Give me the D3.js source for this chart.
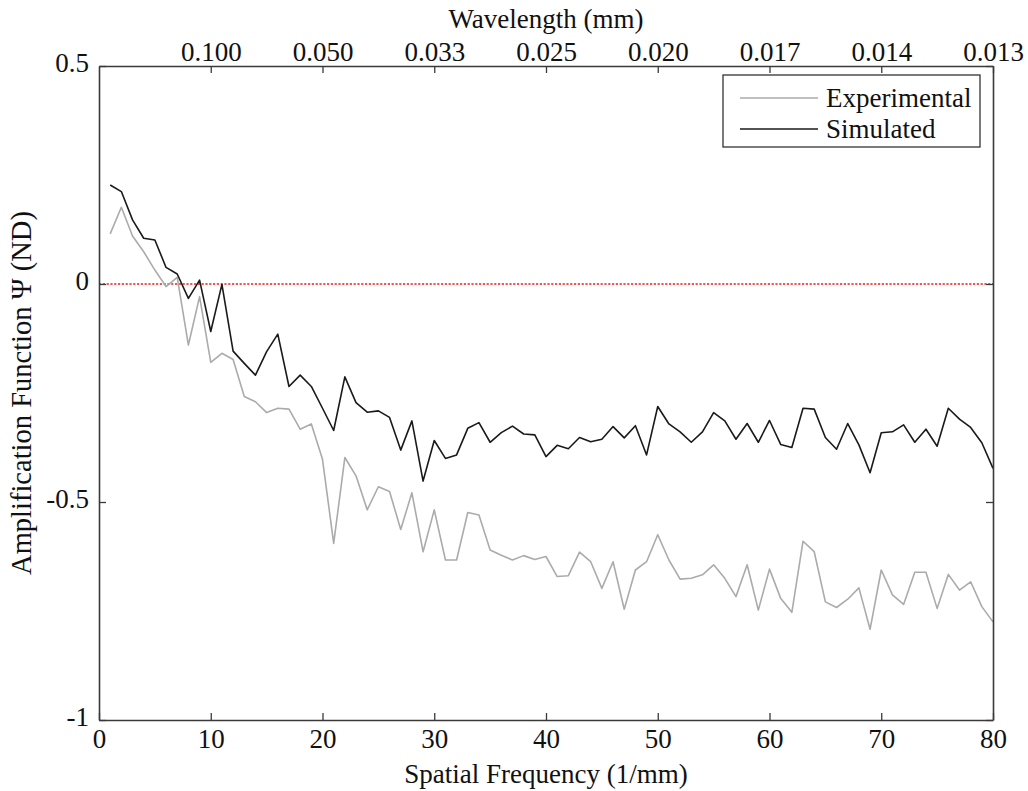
<!DOCTYPE html>
<html>
<head>
<meta charset="utf-8">
<script src="https://cdn.jsdelivr.net/npm/d3@7"></script>
<style>
  html, body { margin: 0; padding: 0; background: #fff; }
  svg { display: block; }
  text { font-family: "Liberation Serif", "Times New Roman", serif; fill: #111; }
</style>
</head>
<body>
<svg id="chart" width="1028" height="791"></svg>
<script>
// ---- data ----
const frequency = d3.range(1, 81);
const experimental = [
  0.115, 0.176, 0.110, 0.074, 0.032, -0.006, 0.015, -0.140, -0.029, -0.180,
  -0.159, -0.173, -0.258, -0.270, -0.295, -0.285, -0.287, -0.333, -0.321, -0.402,
  -0.595, -0.398, -0.440, -0.518, -0.465, -0.476, -0.563, -0.479, -0.614, -0.518,
  -0.633, -0.633, -0.524, -0.530, -0.610, -0.622, -0.633, -0.623, -0.632, -0.625,
  -0.671, -0.669, -0.615, -0.637, -0.698, -0.637, -0.746, -0.656, -0.637, -0.575,
  -0.633, -0.677, -0.675, -0.667, -0.644, -0.675, -0.717, -0.644, -0.748, -0.654,
  -0.721, -0.753, -0.590, -0.614, -0.729, -0.742, -0.723, -0.697, -0.792, -0.656,
  -0.713, -0.735, -0.661, -0.661, -0.744, -0.666, -0.702, -0.683, -0.740, -0.775
];
const simulated = [
  0.227, 0.212, 0.147, 0.105, 0.101, 0.038, 0.023, -0.033, 0.009, -0.109,
  -0.001, -0.154, -0.182, -0.209, -0.155, -0.115, -0.235, -0.209, -0.235, -0.285,
  -0.336, -0.213, -0.272, -0.294, -0.291, -0.306, -0.381, -0.314, -0.452, -0.359,
  -0.400, -0.392, -0.331, -0.318, -0.363, -0.341, -0.326, -0.344, -0.346, -0.396,
  -0.370, -0.378, -0.352, -0.362, -0.356, -0.327, -0.353, -0.325, -0.392, -0.281,
  -0.321, -0.339, -0.363, -0.339, -0.295, -0.314, -0.356, -0.320, -0.363, -0.313,
  -0.368, -0.375, -0.285, -0.287, -0.352, -0.379, -0.320, -0.369, -0.433, -0.341,
  -0.339, -0.323, -0.363, -0.333, -0.372, -0.285, -0.310, -0.329, -0.364, -0.423
];
const xTicks = [0, 10, 20, 30, 40, 50, 60, 70, 80];
const yTicks = [0.5, 0, -0.5, -1];
const yTickLabels = ["0.5", "0", "-0.5", "-1"];
const topTicks = [10, 20, 30, 40, 50, 60, 70, 80];
const topTickLabels = ["0.100", "0.050", "0.033", "0.025", "0.020", "0.017", "0.014", "0.013"];
const seriesNames = ["Experimental", "Simulated"];
const seriesColors = ["#ababab", "#1a1a1a"];

// ---- layout ----
const W = 1028, H = 791;
const margin = { left: 99, right: 35, top: 66, bottom: 71 };
const svg = d3.select("#chart");
const x = d3.scaleLinear().domain([0, 80]).range([margin.left, W - margin.right]);
const y = d3.scaleLinear().domain([-1, 0.5]).range([H - margin.bottom, margin.top]);
const axisColor = "#3a3a3a";
const fs = 27;

// zero reference line
svg.append("line")
  .attr("x1", x(0)).attr("x2", x(80))
  .attr("y1", y(0)).attr("y2", y(0))
  .attr("stroke", "#f01c1c").attr("stroke-width", 1.3)
  .attr("stroke-dasharray", "2.2,1.6");

// lines
const line = d3.line().x((d, i) => x(frequency[i])).y(d => y(d));
[experimental, simulated].forEach((s, i) => {
  svg.append("path").datum(s)
    .attr("d", line)
    .attr("fill", "none")
    .attr("stroke", seriesColors[i])
    .attr("stroke-width", 1.6)
    .attr("stroke-linejoin", "round");
});

// axes
const tickLen = 7;
const gBottom = svg.append("g").attr("transform", `translate(0,${y(-1)})`)
  .call(d3.axisBottom(x).tickValues(xTicks).tickSizeInner(-tickLen).tickSizeOuter(0).tickPadding(9).tickFormat(d3.format("d")));
const gLeft = svg.append("g").attr("transform", `translate(${x(0)},0)`)
  .call(d3.axisLeft(y).tickValues(yTicks).tickSizeInner(-tickLen).tickSizeOuter(0).tickPadding(10)
    .tickFormat((d, i) => yTickLabels[i]));
const gRight = svg.append("g").attr("transform", `translate(${x(80)},0)`)
  .call(d3.axisRight(y).tickValues(yTicks).tickSizeInner(-tickLen).tickSizeOuter(0).tickFormat(""));
const gTop = svg.append("g").attr("transform", `translate(0,${y(0.5)})`)
  .call(d3.axisTop(x).tickValues(topTicks).tickSizeInner(-tickLen).tickSizeOuter(0).tickPadding(5)
    .tickFormat((d, i) => topTickLabels[i]));

[gBottom, gLeft, gRight, gTop].forEach(g => {
  g.selectAll("path.domain").attr("stroke", axisColor).attr("stroke-width", 1.6);
  g.selectAll(".tick line").attr("stroke", axisColor).attr("stroke-width", 1.3);
  g.selectAll(".tick text").attr("font-size", fs).attr("fill", "#111");
});
gLeft.selectAll(".tick text").attr("dy", "0.2em");

// axis titles
svg.append("text").attr("x", (x(0) + x(80)) / 2).attr("y", 783)
  .attr("text-anchor", "middle").attr("font-size", fs).text("Spatial Frequency (1/mm)");
svg.append("text").attr("x", (x(0) + x(80)) / 2).attr("y", 28)
  .attr("text-anchor", "middle").attr("font-size", fs).text("Wavelength (mm)");
svg.append("text")
  .attr("transform", `translate(31,${(y(-1) + y(0.5)) / 2}) rotate(-90)`)
  .attr("text-anchor", "middle").attr("font-size", 28.5).text("Amplification Function \u03A8 (ND)");

// legend
const lg = svg.append("g");
lg.append("rect").attr("x", 723).attr("y", 75).attr("width", 257).attr("height", 72)
  .attr("fill", "#fff").attr("stroke", "#333").attr("stroke-width", 1.3);
seriesNames.forEach((name, i) => {
  const yy = 98 + i * 31;
  lg.append("line").attr("x1", 740).attr("x2", 818).attr("y1", yy).attr("y2", yy)
    .attr("stroke", seriesColors[i]).attr("stroke-width", 1.6);
  lg.append("text").attr("x", 826).attr("y", yy).attr("dy", "0.35em")
    .attr("font-size", fs).text(name);
});
</script>
</body>
</html>
